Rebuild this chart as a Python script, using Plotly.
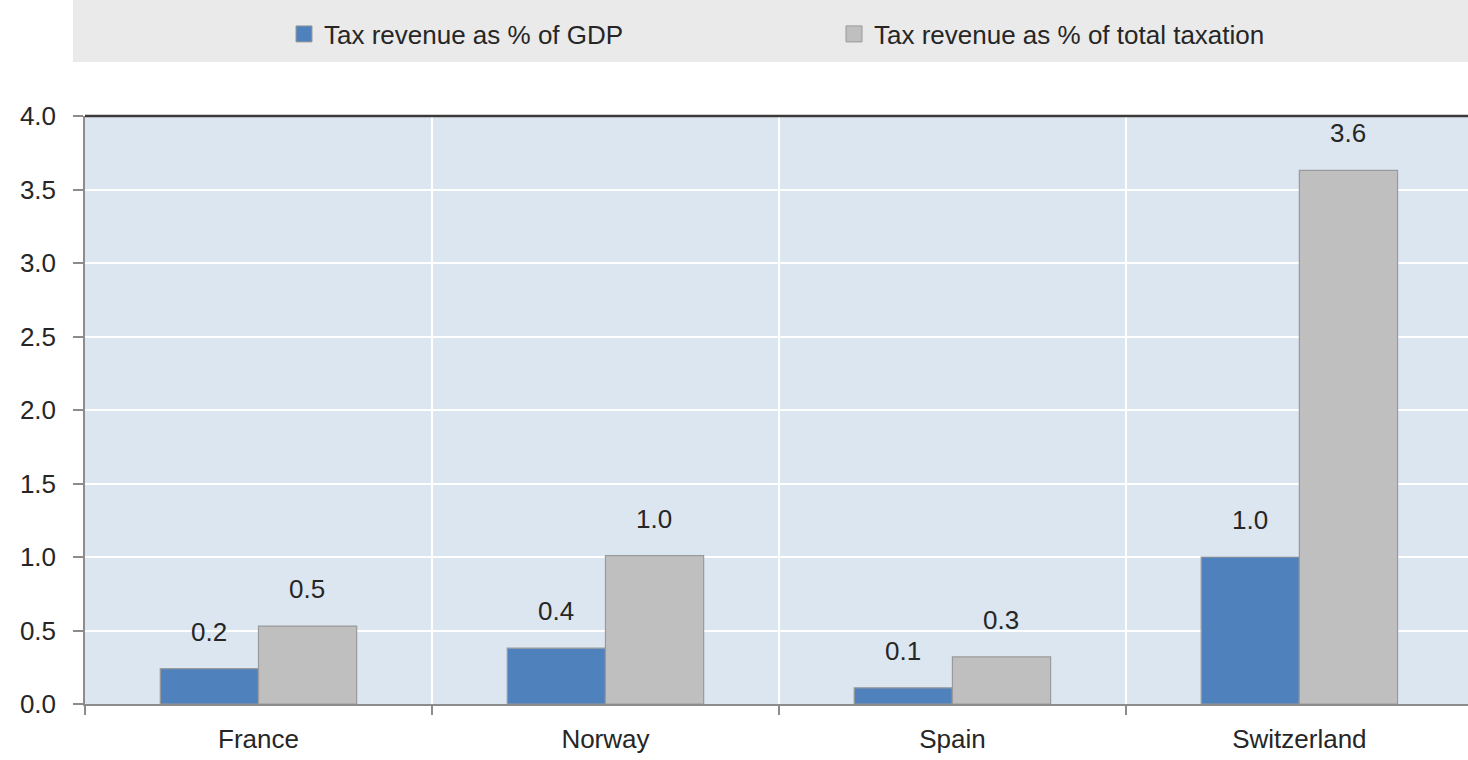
import plotly.graph_objects as go

# Chart data
countries = ["France", "Norway", "Spain", "Switzerland"]
pct_gdp = [0.24, 0.38, 0.11, 1.00]
pct_total_tax = [0.53, 1.01, 0.32, 3.63]
series_names = ["Tax revenue as % of GDP", "Tax revenue as % of total taxation"]
y_ticks = [0.0, 0.5, 1.0, 1.5, 2.0, 2.5, 3.0, 3.5, 4.0]

BLUE = "#4F81BD"
GREY = "#BFBFBF"
EDGE = "#9A9A9A"
FONT = "Liberation Sans, Arial, sans-serif"
TXT = "#262626"

W, H = 1468, 760
L, R, T, B = 85, 0, 116, 56
PW = W - L - R
PH = H - T - B


def px_x(px):
    """pixel column -> paper x"""
    return (px - L) / PW


def px_y(py):
    """pixel row (from top) -> paper y"""
    return 1 + (T - py) / PH


fig = go.Figure()
colors = [BLUE, GREY]
for name, vals, col in zip(series_names, (pct_gdp, pct_total_tax), colors):
    fig.add_trace(go.Bar(x=countries, y=vals, name=name, showlegend=False,
                         marker=dict(color=col, line=dict(color=EDGE, width=1.2))))
# legend keys drawn as larger squares
for name, col in zip(series_names, colors):
    fig.add_trace(go.Scatter(x=[None], y=[None], mode="markers", name=name,
                             marker=dict(symbol="square", size=16, color=col,
                                         line=dict(color=EDGE, width=1))))

# value labels floating above each bar
annotations = []
for vals, shift in ((pct_gdp, -49), (pct_total_tax, 49)):
    for c, v in zip(countries, vals):
        annotations.append(dict(x=c, y=v, xref="x", yref="y", text=f"{v:.1f}",
                                showarrow=False, xshift=shift, yshift=20,
                                yanchor="bottom", font=dict(size=26, color=TXT, family=FONT)))

fig.update_layout(
    width=W, height=H,
    margin=dict(l=L, r=R, t=T, b=B),
    paper_bgcolor="white",
    plot_bgcolor="#DCE6F1",
    barmode="group", bargap=0.434, bargroupgap=0,
    font=dict(family=FONT, size=26, color=TXT),
    showlegend=True,
    legend=dict(orientation="h", x=px_x(284), xanchor="left", y=px_y(34), yanchor="middle",
                bgcolor="rgba(0,0,0,0)", font=dict(size=26, color=TXT, family=FONT),
                entrywidth=505, entrywidthmode="pixels", traceorder="normal"),
    annotations=annotations,
    shapes=[
        # legend band
        dict(type="rect", xref="paper", yref="paper", x0=px_x(73), x1=1.0,
             y0=px_y(62), y1=px_y(0), fillcolor="#EAEAEA", line=dict(width=0), layer="below"),
        # dark top border of the plot area
        dict(type="line", xref="paper", yref="paper", x0=0, x1=1, y0=1, y1=1,
             line=dict(color="#3A3A3A", width=2.5)),
    ],
)

fig.update_xaxes(
    range=[-0.5, 3.486], showline=True, linecolor="#8C8C8C", linewidth=1.5,
    ticks="outside", tickson="boundaries", ticklen=9, tickcolor="#8C8C8C", tickwidth=1.5,
    ticklabelstandoff=11,
    showgrid=True, gridcolor="white", gridwidth=1.5,
    tickfont=dict(size=26, color=TXT, family=FONT),
)
fig.update_yaxes(
    range=[0, 4], tickvals=y_ticks, tickformat=".1f",
    showline=True, linecolor="#8C8C8C", linewidth=1.5,
    ticks="outside", ticklen=10, tickcolor="#8C8C8C", tickwidth=1.5,
    ticklabelstandoff=12,
    showgrid=True, gridcolor="white", gridwidth=1.5, zeroline=False,
    tickfont=dict(size=26, color=TXT, family=FONT),
)

fig.write_html("out.html")
